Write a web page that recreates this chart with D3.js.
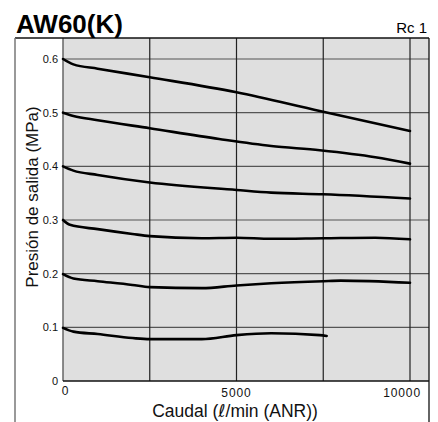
<!DOCTYPE html>
<html><head><meta charset="utf-8">
<script src="https://cdn.jsdelivr.net/npm/d3@7"></script>
<style>body{margin:0;background:#fff}svg{display:block}text{font-family:"Liberation Sans",Arial,Helvetica,sans-serif}</style>
</head><body>
<script>
// Data (flow l/min, outlet pressure MPa)
const flow06 = [0,300,1000,2500,5000,7400,10000];
const p06    = [0.600,0.590,0.582,0.566,0.538,0.503,0.466];
const flow05 = [0,300,1000,2500,4500,6000,7400,9000,10000];
const p05    = [0.500,0.494,0.486,0.471,0.451,0.438,0.430,0.417,0.405];
const flow04 = [0,300,1000,2500,5000,6000,7500,10000];
const p04    = [0.400,0.392,0.384,0.370,0.356,0.351,0.348,0.340];
const flow03 = [0,200,1000,2000,2500,4000,5000,6000,7500,9000,10000];
const p03    = [0.300,0.291,0.283,0.274,0.270,0.266,0.267,0.265,0.266,0.267,0.264];
const flow02 = [0,300,1000,2000,2500,4000,5000,6000,7500,8000,10000];
const p02    = [0.199,0.191,0.186,0.179,0.175,0.173,0.178,0.182,0.186,0.187,0.183];
const flow01 = [0,300,1000,2000,2500,4000,5000,6000,7400,7600];
const p01    = [0.099,0.092,0.0875,0.080,0.078,0.078,0.0855,0.089,0.0855,0.084];
const xTicks = [0,5000,10000];
const xGrid = [2500,5000,7500,10000];
const yTicks = [0,0.1,0.2,0.3,0.4,0.5,0.6];
const yTickLabels = ["0","0.1","0.2","0.3","0.4","0.5","0.6"];
const title = "AW60(K)", port = "Rc 1";
const xTitleA = "Caudal (", xTitleL = "\u2113", xTitleB = "/min (ANR))";
const yTitle = "Presión de salida (MPa)";

const series = [[flow06,p06],[flow05,p05],[flow04,p04],[flow03,p03],[flow02,p02],[flow01,p01]];

const W=438,H=422;
const svg=d3.select("body").append("svg").attr("width",W).attr("height",H);
const x=d3.scaleLinear().domain([0,10000]).range([63,410]);
const y=d3.scaleLinear().domain([0,0.6]).range([381,59]);
const plotL=63, plotR=429, plotT=38, plotB=381;

// background
svg.append("rect").attr("x",plotL).attr("y",plotT).attr("width",plotR-plotL).attr("height",plotB-plotT).attr("fill","#dfdfdf");
// horizontal grid
svg.append("g").selectAll("line").data(yTicks.slice(1)).join("line")
  .attr("x1",plotL).attr("x2",plotR).attr("y1",d=>y(d)).attr("y2",d=>y(d))
  .attr("stroke","#555").attr("stroke-width",1.2);
// vertical grid
svg.append("g").selectAll("line").data(xGrid).join("line")
  .attr("x1",d=>x(d)).attr("x2",d=>x(d)).attr("y1",plotT).attr("y2",plotB)
  .attr("stroke","#222").attr("stroke-width",1.2);
// axes lines
svg.append("line").attr("x1",plotL).attr("x2",plotL).attr("y1",plotT).attr("y2",plotB).attr("stroke","#666").attr("stroke-width",1.5);
svg.append("line").attr("x1",plotL).attr("x2",plotR).attr("y1",plotB).attr("y2",plotB).attr("stroke","#111").attr("stroke-width",1.3);
// frame
svg.append("line").attr("x1",15).attr("x2",plotR).attr("y1",plotT).attr("y2",plotT).attr("stroke","#111").attr("stroke-width",1.3);
svg.append("line").attr("x1",15).attr("x2",15).attr("y1",plotT).attr("y2",H).attr("stroke","#777").attr("stroke-width",1.5);
svg.append("line").attr("x1",plotR).attr("x2",plotR).attr("y1",plotT).attr("y2",H).attr("stroke","#111").attr("stroke-width",1.3);

// curves
const line=d3.line().x(d=>x(d[0])).y(d=>y(d[1])).curve(d3.curveMonotoneX);
svg.append("g").selectAll("path").data(series).join("path")
  .attr("d",s=>line(s[0].map((f,i)=>[f,s[1][i]])))
  .attr("fill","none").attr("stroke","#000").attr("stroke-width",2.6).attr("stroke-linecap","round");

// tick labels
svg.append("g").selectAll("text").data(yTicks).join("text")
  .attr("x",58).attr("y",d=>y(d)).attr("dy","0.35em").attr("text-anchor","end")
  .attr("font-size",11).attr("fill","#111").text((d,i)=>yTickLabels[i]);
svg.append("g").selectAll("text").data(xTicks).join("text")
  .attr("x",d=>d===0?x(d)+2:(d===10000?421:x(d))).attr("y",d=>d===0?395:397)
  .attr("text-anchor",d=>d===10000?"end":"middle")
  .attr("font-size",12).attr("letter-spacing",d=>d===0?0:0.9).attr("fill","#111").text(d=>d);

// titles
svg.append("text").attr("x",16).attr("y",33).attr("font-size",26).attr("font-weight","bold").attr("fill","#000").text(title);
svg.append("text").attr("x",427).attr("y",33).attr("text-anchor","end").attr("font-size",15).attr("fill","#000").text(port);
const xt=svg.append("text").attr("x",235).attr("y",417).attr("text-anchor","middle").attr("font-size",17.5).attr("fill","#111");
xt.append("tspan").text(xTitleA);
xt.append("tspan").attr("font-family","DejaVu Sans").attr("font-style","italic").text(xTitleL);
xt.append("tspan").text(xTitleB);
svg.append("text").attr("transform","translate(38,197) rotate(-90)").attr("text-anchor","middle").attr("font-size",17).attr("fill","#111").text(yTitle);
</script>
</body></html>
